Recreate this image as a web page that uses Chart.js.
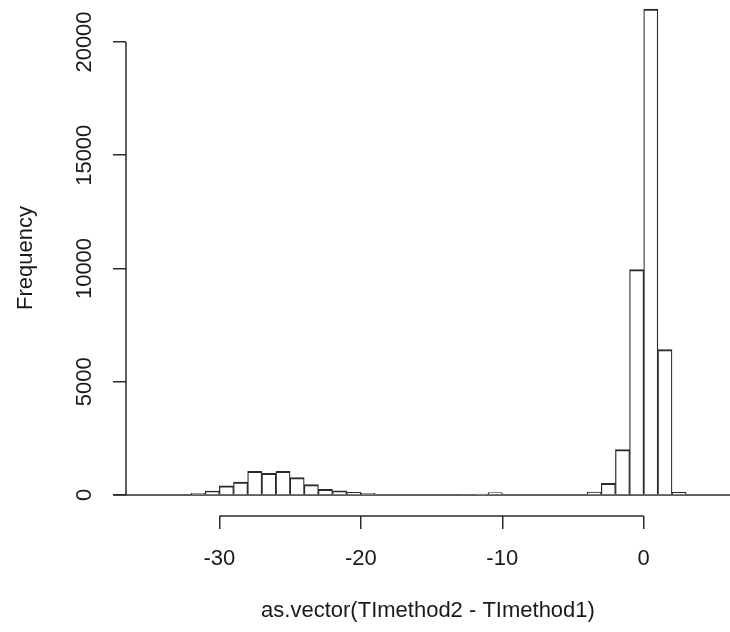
<!DOCTYPE html>
<html>
<head>
<meta charset="utf-8">
<script src="https://cdn.jsdelivr.net/npm/chart.js@4.4.1/dist/chart.umd.min.js"></script>
<style>
  html, body { margin: 0; padding: 0; background: #fff; }
  #wrap { width: 730px; height: 632px; position: relative; }
</style>
</head>
<body>
<div id="wrap"><canvas id="hist"></canvas></div>
<script>
// histogram bins: lower edge of each bin (width 1) and its count
var binStarts = [-32, -31, -30, -29, -28, -27, -26, -25, -24, -23, -22, -21, -20,
                 -19, -18, -17, -16, -15, -14, -13, -12, -11,
                 -10, -9, -8, -7, -6, -5, -4, -3, -2, -1, 0, 1, 2];
var binCounts = [70, 175, 400, 575, 1040, 960, 1040, 770, 455, 250, 180, 120, 70,
                 0, 0, 0, 0, 0, 0, 35, 40, 110,
                 0, 0, 0, 0, 0, 0, 130, 515, 2000, 9950, 21450, 6420, 120];
var binWidth = 1;
var breakRange = [-37.5, 6.1];
var xTickValues = [-30, -20, -10, 0];
var yTickValues = [0, 5000, 10000, 15000, 20000];
var xTitle = 'as.vector(TImethod2 - TImethod1)';
var yTitle = 'Frequency';

var lineColor = '#2a2a2a';
var textColor = '#1a1a1a';
var fontFamily = "'Liberation Sans', Arial, sans-serif";

var barData = binStarts.map(function(s, i) {
  return { x: s + binWidth / 2, y: binCounts[i] };
});

// R draws its axis line only between the first and last tick
var rAxisLines = {
  id: 'rAxisLines',
  afterDraw: function(chart) {
    var ctx = chart.ctx, xs = chart.scales.x, ys = chart.scales.y;
    ctx.save();
    ctx.strokeStyle = lineColor;
    ctx.lineWidth = 1.5;
    ctx.beginPath();
    ctx.moveTo(xs.getPixelForValue(xTickValues[0]), xs.top);
    ctx.lineTo(xs.getPixelForValue(xTickValues[xTickValues.length - 1]), xs.top);
    ctx.moveTo(ys.right, ys.getPixelForValue(yTickValues[0]));
    ctx.lineTo(ys.right, ys.getPixelForValue(yTickValues[yTickValues.length - 1]));
    ctx.stroke();
    ctx.restore();
  }
};

var chart_hist = new Chart(document.getElementById('hist'), {
  type: 'bar',
  data: {
    datasets: [
      {
        type: 'line',
        label: 'breaks',
        data: [{ x: breakRange[0], y: 0 }, { x: breakRange[1], y: 0 }],
        borderColor: lineColor,
        borderWidth: 1.5,
        pointRadius: 0,
        clip: false,
        order: 2
      },
      {
        label: 'Frequency',
        data: barData,
        backgroundColor: '#ffffff',
        borderColor: lineColor,
        borderWidth: { top: 2, left: 1.25, right: 1.25, bottom: 0 },
        borderSkipped: false,
        barPercentage: 1,
        categoryPercentage: 1,
        order: 1
      }
    ]
  },
  options: {
    animation: false,
    responsive: true,
    maintainAspectRatio: false,
    layout: { padding: 0 },
    plugins: {
      legend: { display: false },
      tooltip: { enabled: false }
    },
    scales: {
      x: {
        type: 'linear',
        position: 'bottom',
        offset: false,
        min: -36.6,
        max: 6.1,
        border: { display: false },
        grid: { offset: false, drawOnChartArea: false, drawTicks: true, tickLength: 13, color: lineColor, lineWidth: 1.5 },
        ticks: {
          autoSkip: false,
          maxRotation: 0,
          padding: 17,
          color: textColor,
          font: { family: fontFamily, size: 22 },
          callback: function(value) { return String(value); }
        },
        title: {
          display: true,
          text: xTitle,
          color: textColor,
          font: { family: fontFamily, size: 22 },
          padding: { top: 0, bottom: 8 }
        },
        afterBuildTicks: function(axis) {
          axis.ticks = xTickValues.map(function(v) { return { value: v }; });
        },
        afterFit: function(axis) {
          axis.height = 116;
          axis.paddingLeft = 0;
          axis.paddingRight = 0;
        }
      },
      y: {
        type: 'linear',
        position: 'left',
        min: -927,
        max: 21854,
        border: { display: false },
        grid: { drawOnChartArea: false, drawTicks: true, tickLength: 13, color: lineColor, lineWidth: 1.5 },
        ticks: {
          autoSkip: false,
          minRotation: 90,
          maxRotation: 90,
          crossAlign: 'center',
          padding: -2.5,
          color: textColor,
          font: { family: fontFamily, size: 22 },
          callback: function(value) { return String(value); }
        },
        title: {
          display: true,
          text: yTitle,
          color: textColor,
          font: { family: fontFamily, size: 22 },
          padding: { top: 13, bottom: 0 }
        },
        afterBuildTicks: function(axis) {
          axis.ticks = yTickValues.map(function(v) { return { value: v }; });
        },
        afterFit: function(axis) {
          axis.width = 126;
          axis.paddingTop = 0;
          axis.paddingBottom = 0;
        }
      }
    }
  },
  plugins: [rAxisLines]
});
</script>
</body>
</html>
